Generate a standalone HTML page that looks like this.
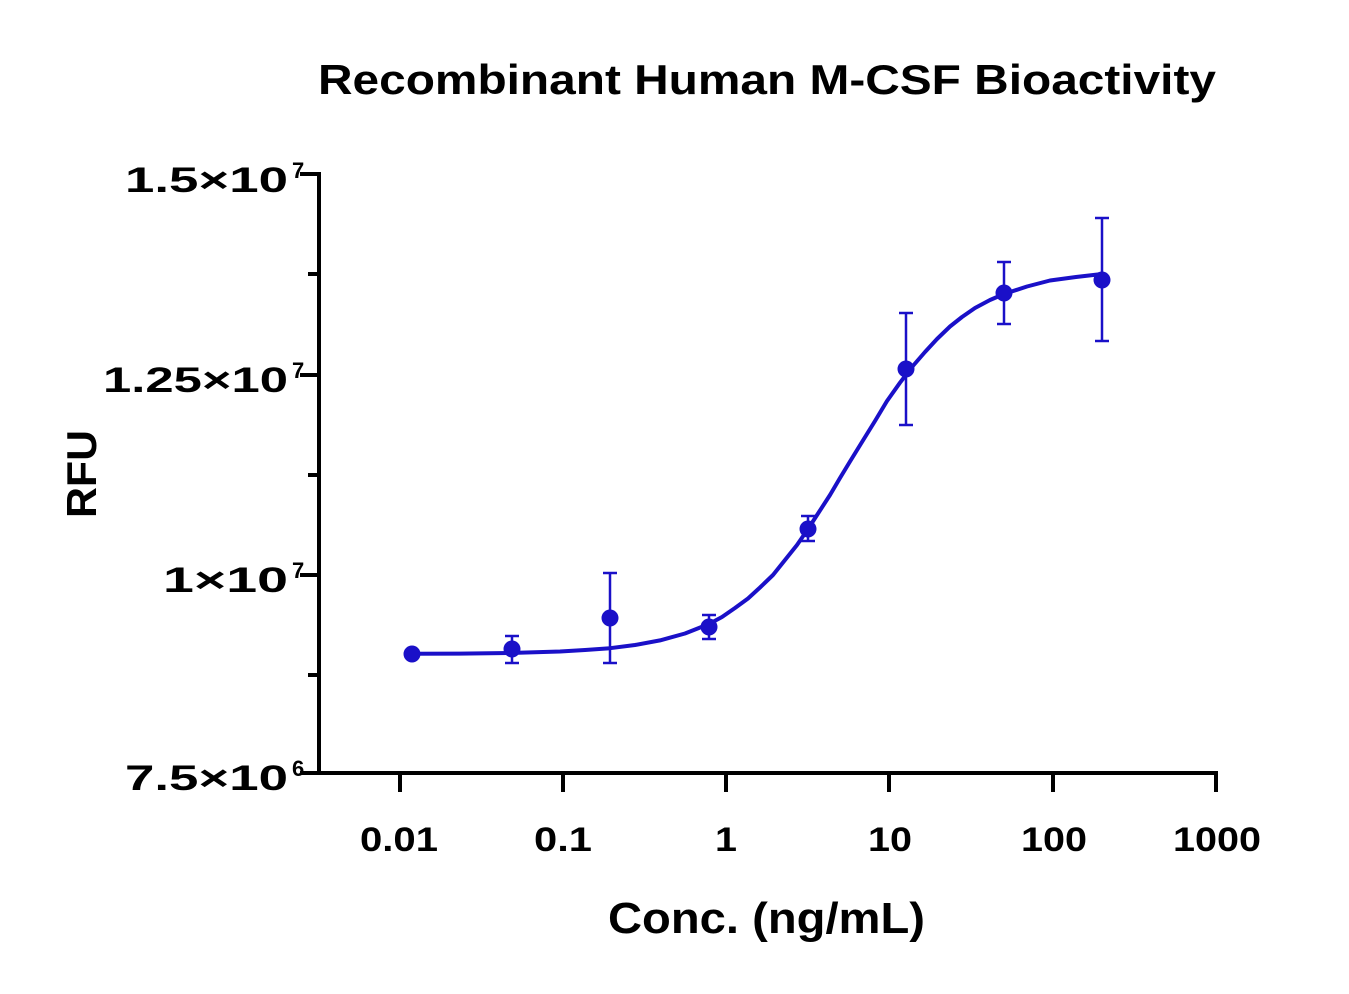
<!DOCTYPE html>
<html><head><meta charset="utf-8"><style>
html,body{margin:0;padding:0;background:#fff}
svg text{font-family:"Liberation Sans",sans-serif;font-weight:bold;fill:#000}
</style></head><body>
<svg width="1349" height="989" viewBox="0 0 1349 989" xmlns="http://www.w3.org/2000/svg">
<text x="318" y="94" font-size="42" textLength="898" lengthAdjust="spacingAndGlyphs">Recombinant Human M-CSF Bioactivity</text>
<g stroke="#000" stroke-width="4" fill="none">
<line x1="319" y1="172" x2="319" y2="775"/>
<line x1="317" y1="773" x2="1218" y2="773"/>
<line x1="300" y1="174" x2="319" y2="174"/>
<line x1="308" y1="274" x2="319" y2="274"/>
<line x1="300" y1="375" x2="319" y2="375"/>
<line x1="308" y1="475" x2="319" y2="475"/>
<line x1="300" y1="575" x2="319" y2="575"/>
<line x1="308" y1="675" x2="319" y2="675"/>
<line x1="300" y1="773" x2="319" y2="773"/>
<line x1="400" y1="773" x2="400" y2="792"/>
<line x1="563" y1="773" x2="563" y2="792"/>
<line x1="726" y1="773" x2="726" y2="792"/>
<line x1="889" y1="773" x2="889" y2="792"/>
<line x1="1053" y1="773" x2="1053" y2="792"/>
<line x1="1216" y1="773" x2="1216" y2="792"/>
</g>
<g font-size="35">
<text x="125" y="192" textLength="163" lengthAdjust="spacingAndGlyphs">1.5×10</text><text x="292" y="178" font-size="22">7</text>
<text x="103" y="392" textLength="185" lengthAdjust="spacingAndGlyphs">1.25×10</text><text x="292" y="378" font-size="22">7</text>
<text x="163" y="592" textLength="125" lengthAdjust="spacingAndGlyphs">1×10</text><text x="292" y="578" font-size="22">7</text>
<text x="125" y="790" textLength="163" lengthAdjust="spacingAndGlyphs">7.5×10</text><text x="292" y="776" font-size="22">6</text>
</g>
<g font-size="34">
<text x="360" y="851" textLength="78" lengthAdjust="spacingAndGlyphs">0.01</text>
<text x="534" y="851" textLength="58" lengthAdjust="spacingAndGlyphs">0.1</text>
<text x="715" y="851" textLength="22" lengthAdjust="spacingAndGlyphs">1</text>
<text x="868" y="851" textLength="44" lengthAdjust="spacingAndGlyphs">10</text>
<text x="1021" y="851" textLength="66" lengthAdjust="spacingAndGlyphs">100</text>
<text x="1173" y="851" textLength="88" lengthAdjust="spacingAndGlyphs">1000</text>
</g>
<text x="608" y="933" font-size="44" textLength="317" lengthAdjust="spacingAndGlyphs">Conc. (ng/mL)</text>
<text transform="translate(96,518) rotate(-90)" font-size="42" textLength="88" lengthAdjust="spacingAndGlyphs">RFU</text>
<polyline fill="none" stroke="#1a10c8" stroke-width="4" stroke-linejoin="round" points="412,653.8 460,653.6 510,653 560,651.5 585,650 610,648.2 635,645 660,640.4 685,633.5 709,624 722,617 735,608 748,598.5 760,587.5 773,575 785,560 797,545 808,529 819,512 830,495 840,478 850,461.5 862,442 875,421 887,401 900,382.7 912,367 925,352 937,339 950,326.5 962,317 975,308 990,300 1004,294 1027,286.5 1050,280.5 1076,277 1102,274"/>
<g stroke="#1a10c8" stroke-width="2.5">
<line x1="512" y1="636" x2="512" y2="663"/><line x1="505" y1="636" x2="519" y2="636"/><line x1="505" y1="663" x2="519" y2="663"/>
<line x1="610" y1="573" x2="610" y2="663"/><line x1="603" y1="573" x2="617" y2="573"/><line x1="603" y1="663" x2="617" y2="663"/>
<line x1="709" y1="615" x2="709" y2="639"/><line x1="702" y1="615" x2="716" y2="615"/><line x1="702" y1="639" x2="716" y2="639"/>
<line x1="808" y1="516" x2="808" y2="541"/><line x1="801" y1="516" x2="815" y2="516"/><line x1="801" y1="541" x2="815" y2="541"/>
<line x1="906" y1="313" x2="906" y2="425"/><line x1="899" y1="313" x2="913" y2="313"/><line x1="899" y1="425" x2="913" y2="425"/>
<line x1="1004" y1="262" x2="1004" y2="324"/><line x1="997" y1="262" x2="1011" y2="262"/><line x1="997" y1="324" x2="1011" y2="324"/>
<line x1="1102" y1="218" x2="1102" y2="341"/><line x1="1095" y1="218" x2="1109" y2="218"/><line x1="1095" y1="341" x2="1109" y2="341"/>
</g>
<g fill="#1a10c8">
<circle cx="412" cy="654" r="8.5"/><circle cx="512" cy="649" r="8.5"/><circle cx="610" cy="618" r="8.5"/><circle cx="709" cy="627" r="8.5"/>
<circle cx="808" cy="529" r="8.5"/><circle cx="906" cy="369" r="8.5"/><circle cx="1004" cy="293" r="8.5"/><circle cx="1102" cy="280" r="8.5"/>
</g>
</svg>
</body></html>
